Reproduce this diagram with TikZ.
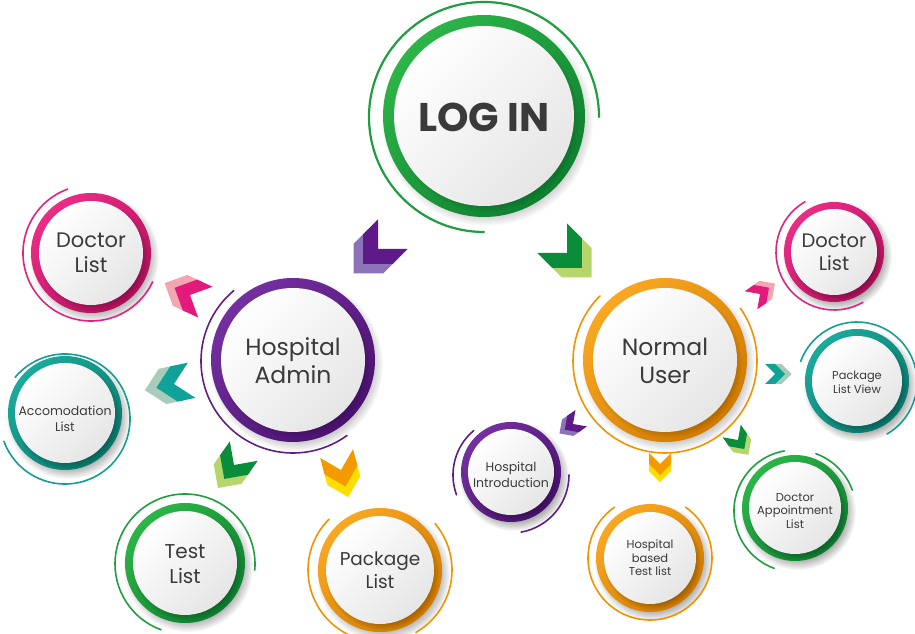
\documentclass[tikz,border=0pt]{standalone}
\usepackage{fontspec}
\setmainfont{Poppins}
\usetikzlibrary{fadings}
\definecolor{txtgray}{HTML}{3A3A3A}
% ring colours
\definecolor{grL}{HTML}{2DB548}\definecolor{grD}{HTML}{0E7F30}\definecolor{grA}{HTML}{1E9E3E}
\definecolor{puL}{HTML}{7430A0}\definecolor{puD}{HTML}{4A1270}\definecolor{puA}{HTML}{5E1E86}
\definecolor{orL}{HTML}{F9A823}\definecolor{orD}{HTML}{D07A00}\definecolor{orA}{HTML}{F39200}
\definecolor{piL}{HTML}{EC2C86}\definecolor{piD}{HTML}{B3105C}\definecolor{piA}{HTML}{E0237E}
\definecolor{teL}{HTML}{1AAA9B}\definecolor{teD}{HTML}{0A7A6E}\definecolor{teA}{HTML}{139E90}
% chevron colours
\definecolor{cPuD}{HTML}{5F1A89}\definecolor{cPuL}{HTML}{8B72B9}
\definecolor{cGrD}{HTML}{0A8D3B}\definecolor{cGrL}{HTML}{B6D66C}
\definecolor{cPiD}{HTML}{E4197C}\definecolor{cPiL}{HTML}{F3A5B0}
\definecolor{cTeD}{HTML}{10A298}\definecolor{cTeL}{HTML}{A8CBBB}
\definecolor{cOrD}{HTML}{F29A00}\definecolor{cOrL}{HTML}{FFDD00}
\tikzset{
  txt/.style={text=txtgray, align=center, inner sep=0pt},
  thinarc/.style={line width=1.6pt, line cap=round},
}
% #1 name, #2 x, #3 y (pixels from top), #4 R, #5 ring width, #6 light, #7 dark, #8 node options, #9 text
\newcommand\ringnode[9]{%
  \fill[black, opacity=0.35, path fading=circle with fuzzy edge 20 percent]
    ({#2+3},{634-#3-4}) circle[radius={(#4+5)*1pt}];
  \shade[top color=#6, bottom color=#7, shading angle=45]
    (#2,{634-#3}) circle[radius={#4*1pt}];
  \fill[black, opacity=0.35, path fading=circle with fuzzy edge 20 percent]
    ({#2+2},{634-#3-3}) circle[radius={(#4-#5+3)*1pt}];
  \shade[top color=white, bottom color=black!10, shading angle=45]
    (#2,{634-#3}) circle[radius={(#4-#5)*1pt}];
  \node[txt, #8] (#1) at (#2,{634-#3}) {#9};
}
% #1 x, #2 y (pixels from top), #3 angle, #4 size, #5 dark, #6 light
\newcommand\chev[6]{%
  \begin{scope}[shift={(#1,{634-#2})}, rotate=#3, scale=#4]
    \fill[#6] (1.65,0) -- (0.65,1) -- (-0.35,1) -- (0.65,0) -- (-0.35,-1) -- (0.65,-1) -- cycle;
    \fill[#5] (1,0) -- (0,1) -- (-1,1) -- (0,0) -- (-1,-1) -- (0,-1) -- cycle;
  \end{scope}}
% #1 node, #2 radius, #3 start, #4 end, #5 colour
\newcommand\thinarc[5]{%
  \draw[thinarc, #5] ([shift={(#3:#2pt)}]#1.center) arc[start angle=#3, end angle=#4, radius=#2pt];}

\begin{document}
\begin{tikzpicture}[x=1pt,y=1pt]
\useasboundingbox (0,0) rectangle (915,634);

% main circles
\ringnode{login}{484}{116}{101}{11}{grL}{grD}{font=\fontsize{40}{44}\selectfont\bfseries, yshift=-1pt}{LOG IN}
\thinarc{login}{115}{0}{270}{grA, line width=2.2pt}

\ringnode{admin}{293}{360}{82}{10}{puL}{puD}{font=\fontsize{23.5}{28}\selectfont, yshift=-1pt}{Hospital\\Admin}
\thinarc{admin}{92}{130}{306}{puA}

\ringnode{user}{665}{360}{82}{10}{orL}{orD}{font=\fontsize{23.5}{28}\selectfont, yshift=-1pt}{Normal\\User}
\thinarc{user}{92}{135}{395}{orA}

% left children
\ringnode{docL}{91}{253}{60}{8}{piL}{piD}{font=\fontsize{21}{25}\selectfont}{Doctor\\List}
\thinarc{docL}{68}{110}{335}{piA}

\ringnode{acc}{65}{413}{57}{7}{teL}{teD}{font=\fontsize{12.5}{16}\selectfont, yshift=-6pt}{Accomodation\\List}
\thinarc{acc}{65}{200}{500}{teA}

\ringnode{test}{185}{563}{60}{8}{grL}{grD}{font=\fontsize{20}{25}\selectfont, yshift=-1pt}{Test\\List}
\thinarc{test}{70}{-5}{250}{grA}

\ringnode{pkg}{380}{570}{62}{8}{orL}{orD}{font=\fontsize{18.5}{23}\selectfont}{Package\\List}
\thinarc{pkg}{72}{135}{250}{orA}
\thinarc{pkg}{72}{-60}{40}{orA}

% right children
\ringnode{hint}{511}{472}{50}{7}{puL}{puD}{font=\fontsize{12.5}{16}\selectfont, yshift=-3pt}{Hospital\\Introduction}
\thinarc{hint}{58}{130}{200}{puA}
\thinarc{hint}{58}{-80}{0}{puA}

\ringnode{hbt}{650}{558}{54}{8}{orL}{orD}{font=\fontsize{11.5}{13.5}\selectfont}{Hospital\\based\\Test list}
\thinarc{hbt}{62}{125}{415}{orA}

\ringnode{dal}{795}{508}{53}{7}{grL}{grD}{font=\fontsize{11.5}{13.5}\selectfont, yshift=-3pt}{Doctor\\Appointment\\List}
\thinarc{dal}{61}{100}{250}{grA}
\thinarc{dal}{61}{20}{70}{grA}

\ringnode{plv}{857}{381}{52}{7}{teL}{teD}{font=\fontsize{11.4}{14}\selectfont, yshift=-1pt}{Package\\List View}
\thinarc{plv}{60}{-60}{160}{teA}

\ringnode{docR}{834}{252}{50}{7}{piL}{piD}{font=\fontsize{19.5}{23}\selectfont}{Doctor\\List}
\thinarc{docR}{58}{120}{300}{piA}

% chevrons
\chev{378}{249}{225}{21}{cPuD}{cPuL}
\chev{567}{253}{315}{21}{cGrD}{cGrL}
\chev{190}{295}{155}{17}{cPiD}{cPiL}
\chev{174}{384}{192}{18}{cTeD}{cTeL}
\chev{234}{465}{235}{17}{cGrD}{cGrL}
\chev{341}{470}{285}{17}{cOrD}{cOrL}
\chev{760}{294}{35}{11}{cPiD}{cPiL}
\chev{775}{374}{0}{10}{cTeD}{cTeL}
\chev{738}{440}{305}{11}{cGrD}{cGrL}
\chev{660}{464}{270}{11}{cOrD}{cOrL}
\chev{573}{424}{215}{10}{cPuD}{cPuL}
\end{tikzpicture}
\end{document}
